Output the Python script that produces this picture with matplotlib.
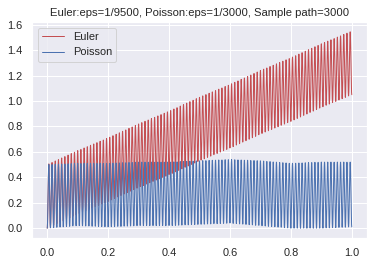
import numpy as np
import matplotlib
matplotlib.use("Agg")
import matplotlib.pyplot as plt
import seaborn as sns

sns.set_theme(style="darkgrid", color_codes=True)
plt.rcParams['font.family'] = ['Liberation Sans', 'DejaVu Sans']

title = "Euler:eps=1/9500, Poisson:eps=1/3000, Sample path=3000"
n_points = 3000
n_cycles = 95

# envelope
x_knots = [0.0, 0.1, 0.2, 0.3, 0.4, 0.5, 0.6, 0.7, 0.8, 0.9, 1.0]
poisson_low = [0.0, 0.02, 0.01, 0.02, 0.02, 0.03, 0.04, 0.02, 0.0, 0.0, 0.01]
poisson_high = [0.50, 0.51, 0.51, 0.52, 0.52, 0.53, 0.54, 0.53, 0.51, 0.52, 0.52]
euler_low = [0.0, 0.11, 0.21, 0.32, 0.42, 0.53, 0.63, 0.74, 0.84, 0.95, 1.05]
euler_high = [0.50, 0.61, 0.71, 0.82, 0.92, 1.03, 1.13, 1.24, 1.34, 1.45, 1.55]

t = np.linspace(0, 1, n_points)
phase = (t * n_cycles) % 1.0
shape = 0.5 - 0.5 * np.cos(2 * np.pi * phase)

def path(lo, hi):
    lo_i = np.interp(t, x_knots, lo)
    hi_i = np.interp(t, x_knots, hi)
    return lo_i + (hi_i - lo_i) * shape

fig = plt.figure(figsize=(374 / 72, 265 / 72), dpi=72)
ax = fig.add_axes([32 / 374, 1 - 238 / 265, 335 / 374, 216 / 265])
ax.plot(t, path(euler_low, euler_high), color='#C44E52', lw=1.0, label='Euler')
ax.plot(t, path(poisson_low, poisson_high), color='#4C72B0', lw=1.0, label='Poisson')
ax.set_title(title, fontsize=11.2)
ax.tick_params(labelsize=11)
ax.legend(loc='upper left', fontsize=11)
fig.savefig("out.png", dpi=72)
